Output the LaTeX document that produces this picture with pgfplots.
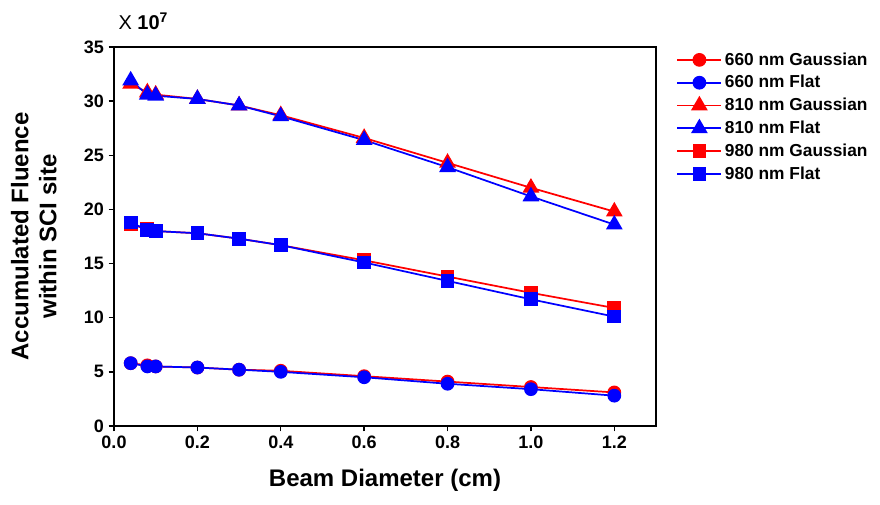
\documentclass[border=0pt]{standalone}
\usepackage{fontspec}
\setmainfont{Liberation Sans}
\usepackage{pgfplots}
\pgfplotsset{compat=1.18}
\begin{document}
\begin{tikzpicture}
\useasboundingbox (-85.5pt,-59.25pt) rectangle (574.5pt,319.5pt);
\begin{axis}[
  at={(0pt,0pt)}, anchor=south west,
  scale only axis, width=406.5pt, height=284.25pt,
  xmin=0, xmax=1.3, ymin=0, ymax=35,
  xtick={0,0.2,0.4,0.6,0.8,1.0,1.2},
  ytick={0,5,10,15,20,25,30,35},
  xticklabel style={/pgf/number format/.cd,fixed,fixed zerofill,precision=1},
  /pgf/number format/assume math mode=true,
  ticklabel style={font=\fontsize{13.5pt}{15pt}\selectfont\bfseries},
  tick align=outside, xtick pos=left, ytick pos=left,
  major tick length=4pt,
  tick style={line width=1pt, black},
  axis line style={line width=2pt},
  xlabel={Beam Diameter (cm)},
  xlabel style={font=\fontsize{18pt}{21pt}\selectfont\bfseries, at={(0.5,-0.1)}, anchor=north},
  ylabel={Accumulated Fluence\\within SCI site},
  ylabel style={font=\fontsize{18pt}{21pt}\selectfont\bfseries, align=center, at={(-0.097,0.5)}, anchor=south},
  legend style={at={(1.03,1.0)}, anchor=north west, draw=none, fill=none,
    font=\fontsize{13pt}{15pt}\selectfont\bfseries, row sep=2.2pt,
    legend cell align=left},
  legend image code/.code={%
    \draw[#1, mark=none, line width=1.3pt] (0pt,0pt) -- (33pt,0pt);
    \draw[#1] plot coordinates {(16.5pt,0pt)};},
  every axis plot/.append style={line width=1.3pt},
  clip=false,
]
\addplot[red, mark=*, mark size=4.5pt] coordinates {(0.04,5.8)(0.08,5.6)(0.1,5.5)(0.2,5.4)(0.3,5.2)(0.4,5.1)(0.6,4.6)(0.8,4.1)(1.0,3.6)(1.2,3.1)};
\addlegendentry{660 nm Gaussian}
\addplot[blue, mark=*, mark size=4.5pt] coordinates {(0.04,5.8)(0.08,5.5)(0.1,5.5)(0.2,5.4)(0.3,5.2)(0.4,5.0)(0.6,4.5)(0.8,3.9)(1.0,3.4)(1.2,2.8)};
\addlegendentry{660 nm Flat}
\addplot[red, mark=triangle*, mark size=6pt] coordinates {(0.04,31.6)(0.08,30.8)(0.1,30.6)(0.2,30.2)(0.3,29.6)(0.4,28.7)(0.6,26.6)(0.8,24.3)(1.0,22.0)(1.2,19.8)};
\addlegendentry{810 nm Gaussian}
\addplot[blue, mark=triangle*, mark size=6pt] coordinates {(0.04,31.9)(0.08,30.6)(0.1,30.5)(0.2,30.2)(0.3,29.6)(0.4,28.6)(0.6,26.4)(0.8,23.9)(1.0,21.2)(1.2,18.6)};
\addlegendentry{810 nm Flat}
\addplot[red, mark=square*, mark size=4.5pt] coordinates {(0.04,18.6)(0.08,18.2)(0.1,18.0)(0.2,17.8)(0.3,17.3)(0.4,16.7)(0.6,15.3)(0.8,13.8)(1.0,12.3)(1.2,10.9)};
\addlegendentry{980 nm Gaussian}
\addplot[blue, mark=square*, mark size=4.5pt] coordinates {(0.04,18.8)(0.08,18.1)(0.1,18.0)(0.2,17.8)(0.3,17.3)(0.4,16.7)(0.6,15.1)(0.8,13.4)(1.0,11.7)(1.2,10.1)};
\addlegendentry{980 nm Flat}
\node[anchor=south west, inner sep=0pt, font=\fontsize{15pt}{17pt}\selectfont] at (rel axis cs:0.008,1.045) {X \textbf{10}\textsuperscript{\bfseries 7}};
\end{axis}
\end{tikzpicture}
\end{document}
